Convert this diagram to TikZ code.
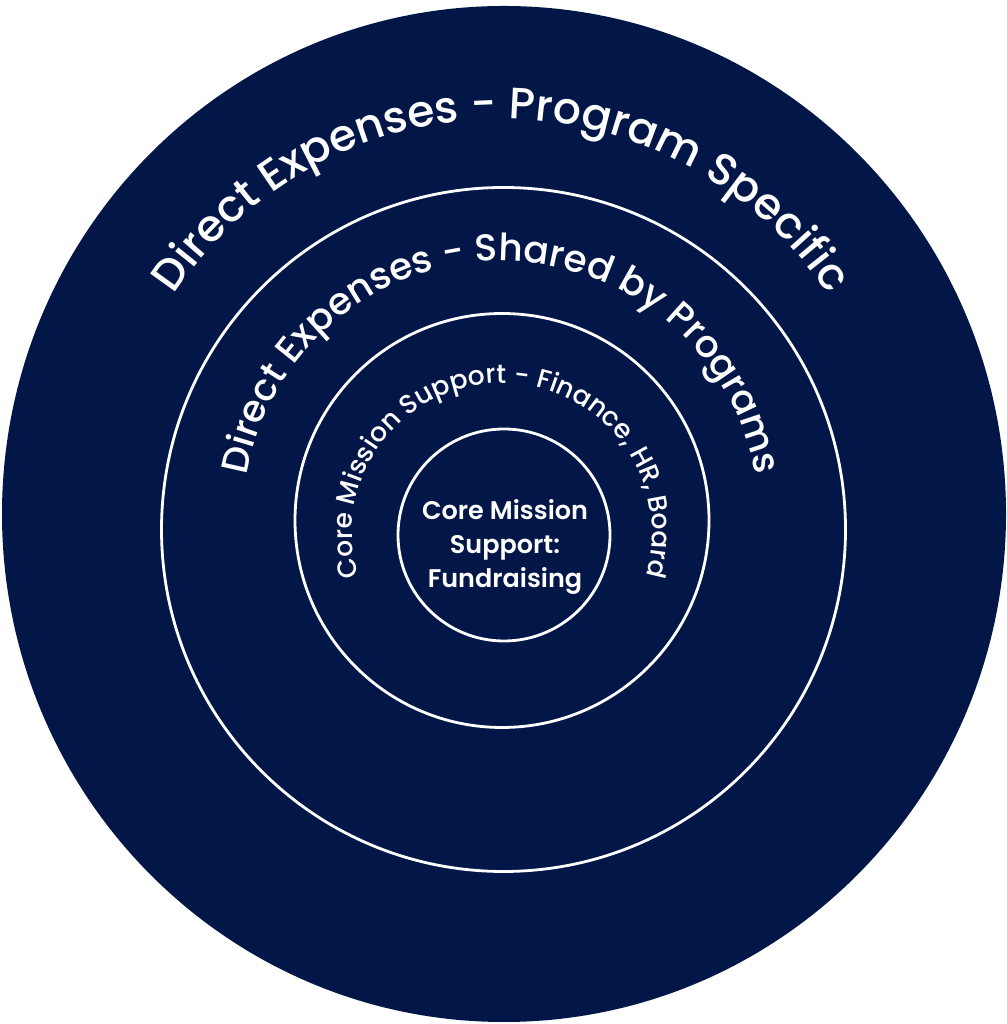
\documentclass[tikz,border=0pt]{standalone}
\usepackage{fontspec}
\setmainfont{Poppins}
\newfontfamily\arcfont{Poppins Medium}
\newfontfamily\corefont{Poppins SemiBold}
\usetikzlibrary{decorations.text}
\definecolor{navy}{RGB}{3,22,72}
\begin{document}
\begin{tikzpicture}[x=1pt,y=1pt,
  ring/.style={draw=white, line width=2.8pt}]
\useasboundingbox[fill=white] (0,0) rectangle (1006,1024);
\fill[navy] (504,510) ellipse [x radius=502, y radius=508];
\draw[ring] (503.5,494.5) circle[radius=342];
\draw[ring] (502,503.5) circle[radius=207];
\draw[ring] (504,489) circle[radius=106];
% outer arc text
\path[decorate, decoration={text along path, text align=center, text color=white,
  text={|\arcfont\fontsize{44}{48}\selectfont|Direct Expenses - Program Specific}}]
  (501,513) ++(200:392) arc[start angle=200, end angle=-20, radius=392];
% middle arc text
\path[decorate, decoration={text along path, text align=center, text color=white,
  text={|\arcfont\fontsize{37.5}{44}\selectfont|Direct Expenses - Shared by Programs}}]
  (501,505) ++(215:258) arc[start angle=215, end angle=-35, radius=258];
% inner arc text
\path[decorate, decoration={text along path, text align=center, text color=white,
  text={|\arcfont\fontsize{26.5}{30}\selectfont|Core Mission Support - Finance, HR, Board}}]
  (502,491) ++(235:150) arc[start angle=235, end angle=-55, radius=150];
% centre
\node[text=white, font=\corefont\fontsize{25.5}{34}\selectfont, align=center] (core) at (505,477)
  {Core Mission\\Support:\\Fundraising};
\end{tikzpicture}
\end{document}
